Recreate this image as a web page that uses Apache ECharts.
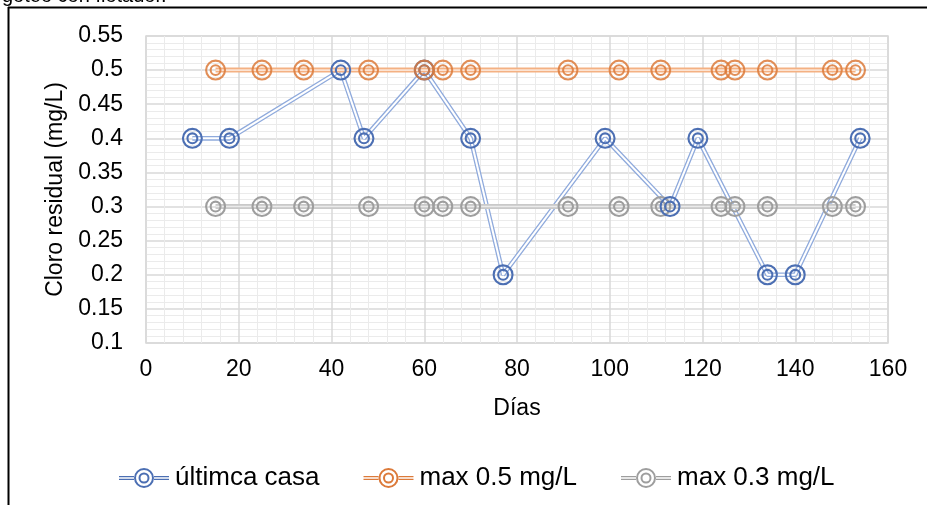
<!DOCTYPE html>
<html><head><meta charset="utf-8">
<script src="https://cdn.jsdelivr.net/npm/echarts@6/dist/echarts.min.js"></script>
<style>html,body{margin:0;padding:0;background:#fff}#c{width:927px;height:505px}</style>
</head><body><div id="c"></div>
<script>
// ---- data ----
const diasCasa  = [10, 18, 42, 47, 60, 70, 77, 99, 113, 119, 134, 140, 154];
const cloroCasa = [0.4, 0.4, 0.5, 0.4, 0.5, 0.4, 0.2, 0.4, 0.3, 0.4, 0.2, 0.2, 0.4];
const diasMax   = [15, 25, 34, 48, 60, 64, 70, 91, 102, 111, 124, 127, 134, 148, 153];
const max05     = [0.5, 0.5, 0.5, 0.5, 0.5, 0.5, 0.5, 0.5, 0.5, 0.5, 0.5, 0.5, 0.5, 0.5, 0.5];
const max03     = [0.3, 0.3, 0.3, 0.3, 0.3, 0.3, 0.3, 0.3, 0.3, 0.3, 0.3, 0.3, 0.3, 0.3, 0.3];
const seriesNames = ['últimca casa', 'max 0.5 mg/L', 'max 0.3 mg/L'];
const xTitle = 'Días';
const yTitle = 'Cloro residual (mg/L)';
const topText = 'goteo con flotador.';

const pairs = (xs, ys) => xs.map((x, i) => [x, ys[i]]);
const ring = 'path://M0 10A10 10 0 1 1 20 10A10 10 0 1 1 0 10ZM2 10A8 8 0 1 0 18 10A8 8 0 1 0 2 10ZM4.3 10A5.7 5.7 0 1 1 15.7 10A5.7 5.7 0 1 1 4.3 10ZM6.3 10A3.7 3.7 0 1 0 13.7 10A3.7 3.7 0 1 0 6.3 10Z';
const legendIcon = 'path://M0 8L15 8L15 9.2L0 9.2ZM0 10.8L15 10.8L15 12L0 12ZM35 8L50 8L50 9.2L35 9.2ZM35 10.8L50 10.8L50 12L35 12Z' +
  'M15 10A10 10 0 1 1 35 10A10 10 0 1 1 15 10ZM17 10A8 8 0 1 0 33 10A8 8 0 1 0 17 10Z' +
  'M19.5 10A5.5 5.5 0 1 1 30.5 10A5.5 5.5 0 1 1 19.5 10ZM21.5 10A3.5 3.5 0 1 0 28.5 10A3.5 3.5 0 1 0 21.5 10Z';

const groups = [
  { name: seriesNames[0], data: pairs(diasCasa, cloroCasa), line: '#8FAADC', inner: '#ffffff', mark: '#4C6FB3', w: 4.6, iw: 2.0, z: 4, op: 1 },
  { name: seriesNames[1], data: pairs(diasMax, max05), line: '#F4B183', inner: '#FBE3D3', mark: '#DC7A3A', w: 5, iw: 1.6, z: 5, op: 0.85 },
  { name: seriesNames[2], data: pairs(diasMax, max03), line: '#C9C9C9', inner: '#EBEBEB', mark: '#9E9E9E', w: 5, iw: 1.6, z: 3, op: 1 }
];

const series = [];
groups.forEach(g => {
  series.push({ type: 'line', name: g.name, data: g.data, symbol: 'none', silent: true, z: 2,
    itemStyle: { color: g.mark }, lineStyle: { color: g.line, width: g.w } });
  series.push({ type: 'line', data: g.data, symbol: 'none', silent: true, z: 2,
    lineStyle: { color: g.inner, width: g.iw } });
});
groups.forEach(g => {
  series.push({ type: 'scatter', data: g.data, symbol: ring, symbolSize: 21, z: g.z, silent: true,
    itemStyle: { color: g.mark, opacity: g.op } });
});

const font = 'Liberation Sans, Arial, sans-serif';
const chart = echarts.init(document.getElementById('c'), null, { renderer: 'canvas' });
chart.setOption({
  animation: false,
  backgroundColor: '#fff',
  grid: { left: 146, right: 39, top: 36, bottom: 162, show: true, borderColor: '#d9d9d9', borderWidth: 1.5 },
  xAxis: {
    type: 'value', min: 0, max: 160, interval: 20,
    name: xTitle, nameLocation: 'middle', nameGap: 54,
    nameTextStyle: { fontFamily: font, fontSize: 23, color: '#000' },
    axisLine: { show: false }, axisTick: { show: false },
    axisLabel: { fontFamily: font, fontSize: 23, color: '#000', margin: 15 },
    splitLine: { show: true, lineStyle: { color: '#d9d9d9', width: 1.5 } },
    minorTick: { show: false, splitNumber: 5 },
    minorSplitLine: { show: true, lineStyle: { color: '#ebebeb', width: 1 } }
  },
  yAxis: {
    type: 'value', min: 0.1, max: 0.55, interval: 0.05,
    name: yTitle, nameLocation: 'middle', nameGap: 77, nameRotate: 90,
    nameTextStyle: { fontFamily: font, fontSize: 23, color: '#000' },
    axisLine: { show: false }, axisTick: { show: false },
    axisLabel: { fontFamily: font, fontSize: 23, color: '#000', margin: 23 },
    splitLine: { show: true, lineStyle: { color: '#d9d9d9', width: 1.5 } },
    minorTick: { show: false, splitNumber: 5 },
    minorSplitLine: { show: true, lineStyle: { color: '#ebebeb', width: 1 } }
  },
  legend: {
    left: 114, top: 460, itemWidth: 52, itemHeight: 20, itemGap: 44,
    textStyle: { fontFamily: font, fontSize: 26, color: '#000' },
    data: groups.map(g => ({ name: g.name, icon: legendIcon, itemStyle: { color: g.mark, borderWidth: 0 } }))
  },
  graphic: [
    { type: 'text', left: 2, top: -14, style: { text: topText, font: '20px Liberation Sans, Arial, sans-serif', fill: '#000' } },
    { type: 'line', shape: { x1: 8.5, y1: 7, x2: 8.5, y2: 505 }, style: { stroke: '#000', lineWidth: 2 } },
    { type: 'line', shape: { x1: 8, y1: 7.5, x2: 927, y2: 7.5 }, style: { stroke: '#000', lineWidth: 2 } }
  ],
  series: series
});
</script></body></html>
